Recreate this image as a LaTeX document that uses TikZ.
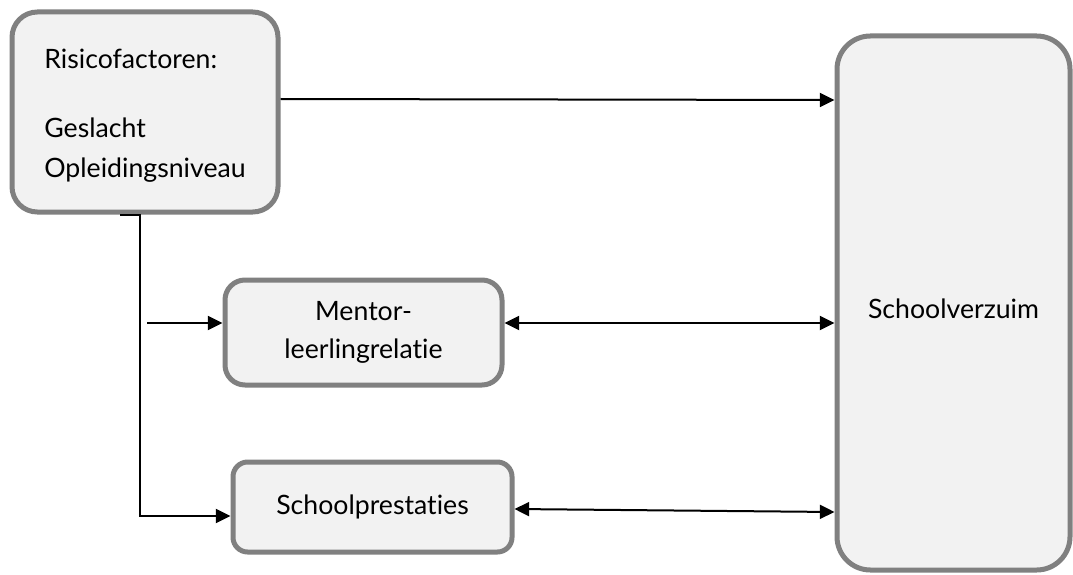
\documentclass[tikz,border=0pt]{standalone}
\usepackage{fontspec}
\setmainfont{Lato}[Ligatures=NoCommon]
\usetikzlibrary{arrows.meta, positioning, calc}
\definecolor{randgrijs}{RGB}{128,128,128}
\definecolor{vulgrijs}{RGB}{242,242,242}
\newcommand{\omlaag}[1]{\raisebox{-3pt}[\height][\depth]{#1}}

\begin{document}
\begin{tikzpicture}[
    x=0.75pt, y=-0.75pt,
    blok/.style={draw=randgrijs, fill=vulgrijs, line width=3.75pt, align=center, inner sep=0pt, font=\fontsize{20}{28}\selectfont},
    pijl/.style={line width=1.5pt, -{Triangle[length=11pt, width=10.5pt]}},
    dubbel/.style={line width=1.5pt, {Triangle[length=11pt, width=10.5pt]}-{Triangle[length=11pt, width=10.5pt]}},
]
    \useasboundingbox (0,0) rectangle (1073,574);

    \node[blok, rounded corners=19pt, minimum width=199.5pt, minimum height=150pt, align=left, font=\fontsize{20}{30}\selectfont] (risico) at (145,112) {\omlaag{Risicofactoren:}\\[22pt]\omlaag{Geslacht}\\\omlaag{Opleidingsniveau}};
    \node[blok, rounded corners=25pt, minimum width=174.75pt, minimum height=400.5pt] (verzuim) at (953.5,303) {\raisebox{-4pt}[\height][\depth]{Schoolverzuim}};
    \node[blok, rounded corners=15pt, minimum width=207.75pt, minimum height=78.75pt] (mentor) at (363.5,332.5) {Mentor-\\leerlingrelatie};
    \node[blok, rounded corners=11pt, minimum width=209.25pt, minimum height=67.5pt] (prestatie) at (372.5,507) {Schoolprestaties};

    \coordinate (knik) at (140,213);
    \coordinate (tak) at (147,323);

    \draw[pijl] (risico.east |- 0,99) -- (verzuim.west |- 0,100);
    \draw[pijl] (risico.south -| 120,0) -- (risico.south -| knik) -- (knik |- 0,516) -- (prestatie.west |- 0,516);
    \draw[pijl] (tak) -- (mentor.west |- tak);
    \draw[dubbel] (mentor.east |- tak) -- (verzuim.west |- tak);
    \draw[dubbel] (prestatie.east |- 0,509) -- (verzuim.west |- 0,512);
\end{tikzpicture}
\end{document}
